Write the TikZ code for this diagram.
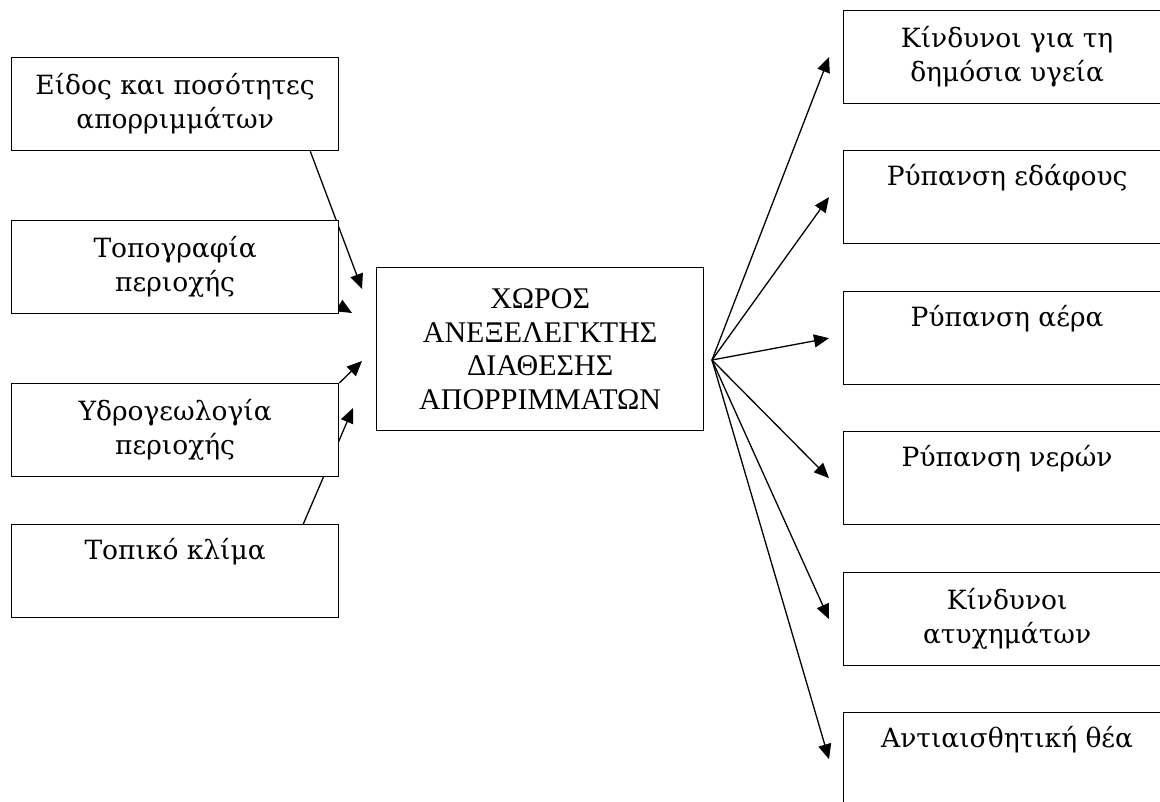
\documentclass[tikz,border=0pt]{standalone}
\usepackage{fontspec}
\setmainfont{DejaVu Serif}
\newfontfamily\capsfont{Liberation Serif}
\usetikzlibrary{arrows.meta,backgrounds,calc}

\tikzset{
  box/.style={draw, line width=1.3pt, fill=white, anchor=north west,
    minimum width=327pt, minimum height=93pt, align=center, inner sep=0pt,
    font=\fontsize{26.5}{34}\selectfont},
  link/.style={line width=1.3pt, -{Triangle[length=15pt,width=13pt]}}
}

\begin{document}
\begin{tikzpicture}[x=1pt,y=-1pt]
	\clip (0,0) rectangle (1160,802);
	% factors
	\node[box] (eidos) at (11,57) {Είδος και ποσότητες\\απορριμμάτων};
	\node[box] (topo) at (11,220) {Τοπογραφία\\περιοχής};
	\node[box] (ydro) at (11,383) {Υδρογεωλογία\\περιοχής};
	\node[box] (klima) at (11,524) {Τοπικό κλίμα\\\strut};
	% the site
	\node[box, minimum height=163pt, font=\capsfont\fontsize{30}{33.7}\selectfont] (xoros) at (376,267)
		{ΧΩΡΟΣ\\ΑΝΕΞΕΛΕΓΚΤΗΣ\\ΔΙΑΘΕΣΗΣ\\ΑΠΟΡΡΙΜΜΑΤΩΝ};
	% effects
	\node[box] (ygeia) at (843,10) {Κίνδυνοι για τη\\δημόσια υγεία};
	\node[box] (edafos) at (843,150) {Ρύπανση εδάφους\\\strut};
	\node[box] (aeras) at (843,291) {Ρύπανση αέρα\\\strut};
	\node[box] (nera) at (843,431) {Ρύπανση νερών\\\strut};
	\node[box] (atyx) at (843,572) {Κίνδυνοι\\ατυχημάτων};
	\node[box] (thea) at (843,712) {Αντιαισθητική θέα\\\strut};

	\coordinate (hub) at (712,360);
	\coordinate (in1) at (362,289);
	\coordinate (in2) at (352,313);
	\coordinate (in3) at (362,361);
	\coordinate (in4) at (353,408);

	\begin{pgfonlayer}{background}
		\draw[link] ($(eidos.south east)+(-29,0)$) -- (in1);
		\draw[link] ($(topo.south east)+(-46,-35)$) -- (in2);
		\draw[link] (ydro.north east) -- (in3);
		\draw[link] ($(klima.north east)+(-36,0)$) -- (in4);
		\foreach \n in {ygeia,edafos,aeras,nera,atyx,thea}
			\draw[link] (hub) -- ($(\n.west)+(-14,0)$);
	\end{pgfonlayer}
\end{tikzpicture}
\end{document}
